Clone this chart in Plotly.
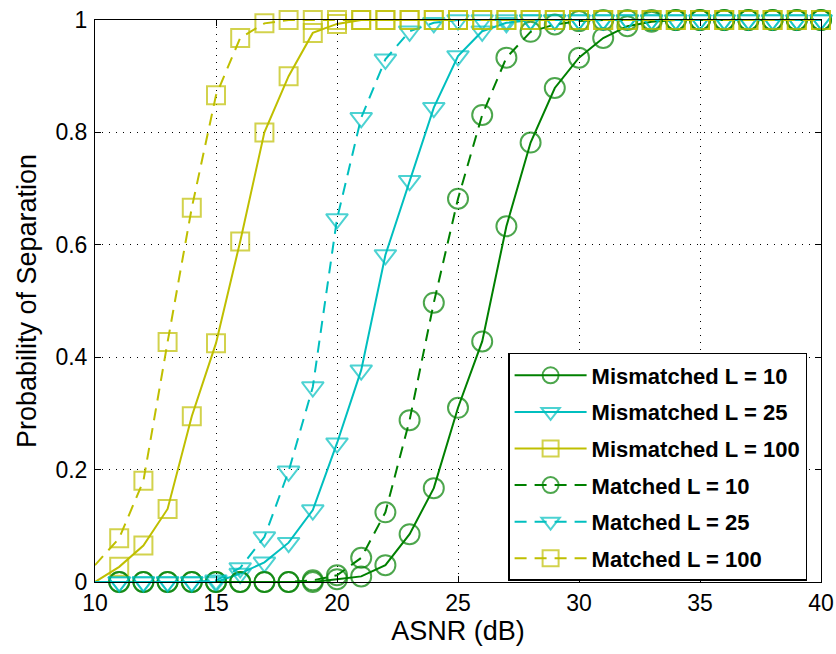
import plotly.graph_objects as go

asnr = list(range(10, 41))

mismatched_L10 = [0, 0, 0, 0, 0, 0, 0, 0, 0, 0, 0.005, 0.01, 0.03, 0.085, 0.167, 0.31, 0.428, 0.633,
                  0.782, 0.879, 0.933, 0.968, 0.989, 0.997, 1, 1, 1, 1, 1, 1, 1]
mismatched_L25 = [0, 0, 0, 0, 0, 0, 0.015, 0.035, 0.07, 0.128, 0.247, 0.377, 0.582, 0.714, 0.844,
                  0.936, 0.98, 0.995, 1, 1, 1, 1, 1, 1, 1, 1, 1, 1, 1, 1, 1]
mismatched_L100 = [0, 0.027, 0.065, 0.13, 0.295, 0.425, 0.606, 0.8, 0.9, 0.977, 0.993, 1, 1, 1, 1,
                   1, 1, 1, 1, 1, 1, 1, 1, 1, 1, 1, 1, 1, 1, 1, 1]
matched_L10 = [0, 0, 0, 0, 0, 0, 0, 0, 0, 0.003, 0.012, 0.043, 0.124, 0.288, 0.497, 0.682, 0.831,
               0.933, 0.979, 0.992, 0.998, 1, 1, 1, 1, 1, 1, 1, 1, 1, 1]
matched_L25 = [0, 0, 0, 0, 0, 0.003, 0.025, 0.08, 0.197, 0.347, 0.646, 0.826, 0.93, 0.98, 0.995,
               1, 1, 1, 1, 1, 1, 1, 1, 1, 1, 1, 1, 1, 1, 1, 1]
matched_L100 = [0.03, 0.078, 0.18, 0.427, 0.666, 0.866, 0.968, 0.994, 1, 1, 1, 1, 1, 1, 1, 1,
                1, 1, 1, 1, 1, 1, 1, 1, 1, 1, 1, 1, 1, 1, 1]

x_ticks = [10, 15, 20, 25, 30, 35, 40]
y_ticks = [0, 0.2, 0.4, 0.6, 0.8, 1]

names = ["Mismatched L = 10", "Mismatched L = 25", "Mismatched L = 100",
         "Matched L = 10", "Matched L = 25", "Matched L = 100"]
series = [mismatched_L10, mismatched_L25, mismatched_L100, matched_L10, matched_L25, matched_L100]

GREEN = "#008000"
CYAN = "#00BFBF"
YELLOW = "#BFBF00"
colors = [GREEN, CYAN, YELLOW, GREEN, CYAN, YELLOW]
symbols = ["circle-open", "triangle-down-open", "square-open"] * 2
sizes = [20, 19, 18] * 2
dashes = ["solid"] * 3 + ["12px,8px"] * 3

FONT = "Liberation Sans, Arial, sans-serif"

fig = go.Figure()
for i, (nm, ys, c, sym, sz, dsh) in enumerate(zip(names, series, colors, symbols, sizes, dashes)):
    msize = [0] + [sz] * (len(asnr) - 1)
    fig.add_trace(go.Scatter(
        x=asnr, y=ys, name=nm, mode="lines+markers", legendgroup=f"g{i}",
        line=dict(color=c, width=2, dash=dsh),
        marker=dict(symbol=sym, size=msize, color=c, line=dict(color=c, width=2)),
        cliponaxis=False,
    ))

axis_common = dict(
    showline=True, linecolor="black", linewidth=1, mirror="ticks",
    ticks="inside", ticklen=6, tickcolor="black",
    showgrid=True, gridcolor="black", griddash="1px,6px", gridwidth=1,
    zeroline=False, automargin=False,
    tickfont=dict(family=FONT, size=23, color="black"),
)

fig.update_layout(
    width=836, height=654,
    margin=dict(l=95, r=15, t=20, b=72),
    paper_bgcolor="white", plot_bgcolor="white",
    showlegend=True,
    legend=dict(
        x=0.569, y=0.4075, xanchor="left", yanchor="top",
        bgcolor="white", bordercolor="black", borderwidth=1.5,
        font=dict(family=FONT, size=22, color="black", weight="bold"),
        itemwidth=72, tracegroupgap=5,
    ),
    xaxis=dict(range=[10, 40], tickvals=x_ticks,
               title=dict(text="ASNR (dB)", font=dict(family=FONT, size=27, color="black"),
                          standoff=4),
               **axis_common),
    yaxis=dict(range=[0, 1], tickvals=y_ticks, ticklabelstandoff=2,
               title=dict(text="Probability of Separation",
                          font=dict(family=FONT, size=27, color="black"), standoff=10),
               **axis_common),
)

fig.write_html("out.html", config={"displayModeBar": False},
               post_script="document.body.style.margin='0';document.body.style.overflow='hidden';")
